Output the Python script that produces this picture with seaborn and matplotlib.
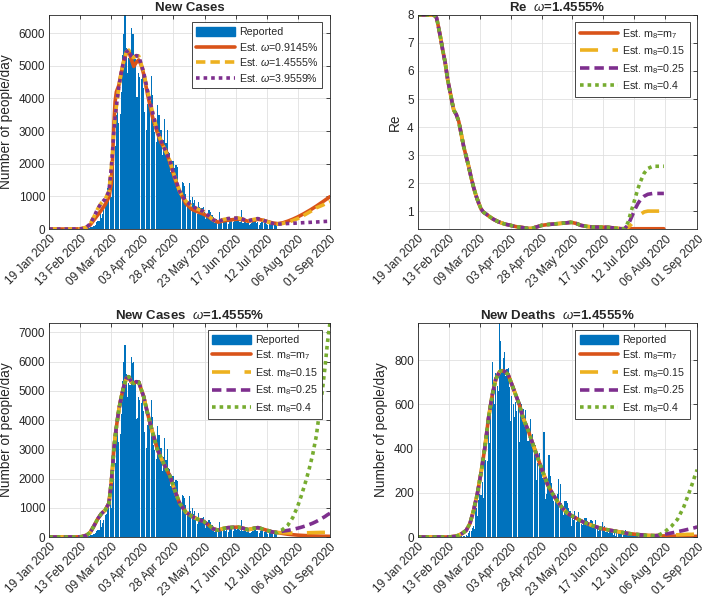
import numpy as np
import matplotlib
matplotlib.use('Agg')
import matplotlib.pyplot as plt
import seaborn as sns
from matplotlib.patches import Patch

# x axis in days after 19 Jan 2020
tick_days = [0, 25, 50, 75, 100, 125, 150, 175, 200, 226]
tick_labels = ['19 Jan 2020', '13 Feb 2020', '09 Mar 2020', '03 Apr 2020', '28 Apr 2020',
               '23 May 2020', '17 Jun 2020', '12 Jul 2020', '06 Aug 2020', '01 Sep 2020']

# reported daily data
cases_first_day = 32
reported_cases = [
    20, 59, 71, 77, 93, 125, 205, 238, 240,  # feb
    566, 342, 466, 587, 769, 778, 1247, 1492, 1797, 977, 2313, 2651, 2547, 3497, 3590, 3233,
    3526, 4207, 5322, 5986, 6557, 5560, 4789, 5249, 5210, 6153, 5959, 5974, 5217, 4050, 4053,  # mar
    4782, 4668, 4585, 4805, 4316, 3599, 3039, 3836, 4204, 3951, 4694, 4092, 3153, 2972, 2667,
    3786, 3493, 3491, 3047, 2256, 2729, 3370, 2646, 3021, 2357, 2324, 1739, 2091, 2086, 1872,  # apr
    1965, 1900, 1389, 1221, 1075, 1444, 1401, 1327, 1083, 802, 744, 1402, 888, 992, 789, 875,
    675, 451, 813, 665, 642, 652, 669, 531, 300, 397, 584, 593, 516, 416, 355,  # may
    178, 318, 321, 177, 518, 270, 197, 280, 283, 202, 379, 163, 346, 338, 301, 210, 329, 333,
    251, 262, 224, 218, 577, 190, 296, 259, 175, 174, 126, 142,  # jun
    187, 201, 223, 235, 192, 208, 138, 193, 229, 276, 188, 234, 169, 114, 163, 230, 233, 249,
    219, 218, 129,  # jul
]
deaths_first_day = 31
reported_deaths = [
    1, 1, 1, 4, 3, 2, 5, 4, 8,
    5, 18, 27, 28, 41, 49, 36, 133, 97, 168, 196, 189, 250, 175, 368, 349, 345, 475, 427, 627,
    793, 651, 601, 743, 683, 662, 969, 889, 756, 812, 837,
    727, 760, 766, 681, 525, 636, 604, 542, 610, 570, 619, 431, 566, 602, 578, 525, 575, 482,
    433, 454, 534, 437, 464, 420, 415, 260, 333, 382, 323, 285,
    269, 474, 174, 195, 236, 369, 274, 243, 194, 165, 179, 172, 195, 262, 242, 153, 145, 99,
    162, 161, 156, 130, 119, 50, 92, 78, 117, 70, 87, 111, 75,
    60, 55, 71, 88, 85, 72, 53, 65, 79, 71, 53, 56, 78, 44, 26, 34, 43, 66, 47, 49, 24, 23,
    18, 30, 34, 30, 8, 24, 6, 23,
    21, 30, 15, 21, 7, 8, 30, 15, 12, 12, 7, 7, 13, 13, 20, 11, 14, 9, 12, 3, 13,
]

# new cases estimates for three omega values
tl_days = [0, 20, 26, 30, 33, 36, 39, 42, 45, 48, 50, 51, 52, 53, 54, 56, 58, 60, 62, 64,
           66, 68, 70, 72, 74, 76, 79, 83, 87, 90, 94, 97, 101, 105, 110, 115, 120, 124, 128, 132,
           136, 140, 144, 148, 152, 156, 160, 164, 168, 172, 176, 180, 184, 188, 192, 196, 200, 205, 210, 215,
           220, 226]
est_omega_09145 = [0, 0, 10, 50, 130, 280, 430, 580, 750, 980, 1400, 2200, 3200, 3900, 4200, 4400, 4800, 5150, 5380, 5450,
                   5200, 4980, 5100, 5180, 5020, 4750, 4150, 3450, 2950, 2650, 2400, 2050, 1550, 1150, 780, 600, 520, 460, 380, 270,
                   210, 250, 270, 290, 305, 280, 240, 260, 300, 270, 225, 185, 165, 190, 240, 300, 370, 470, 580, 700,
                   830, 990]
est_omega_14555 = [0, 0, 10, 60, 160, 380, 620, 800, 920, 1150, 1900, 2400, 3000, 3400, 3750, 4350, 4800, 5150, 5420, 5480,
                   5300, 5250, 5310, 5300, 5050, 4800, 4250, 3600, 3000, 2700, 2350, 2100, 1600, 1150, 850, 700, 600, 540, 420, 280,
                   230, 290, 320, 330, 340, 300, 250, 290, 320, 270, 220, 170, 150, 170, 210, 260, 320, 420, 530, 650,
                   730, 840]
est_omega_39559 = [0, 0, 10, 60, 160, 380, 620, 800, 920, 1150, 1900, 2400, 3000, 3400, 3750, 4350, 4800, 5150, 5420, 5480,
                   5300, 5250, 5310, 5300, 5050, 4800, 4250, 3600, 3000, 2700, 2350, 2100, 1600, 1150, 850, 700, 600, 540, 420, 280,
                   230, 290, 320, 330, 340, 300, 250, 290, 320, 270, 220, 170, 150, 160, 170, 175, 185, 195, 205, 215,
                   228, 240]

# new cases, omega=1.4555%, different m8 after mid July
nc_base_days = tl_days[:53]
nc_base = est_omega_14555[:53]
nc_tail_days = [188, 192, 196, 200, 203, 206, 209, 212, 215, 218, 220, 222, 224, 226]
nc_m7 = [120, 95, 78, 64, 56, 49, 43, 38, 34, 30, 28, 26, 24, 22]
nc_015 = [150, 140, 135, 135, 138, 142, 146, 150, 153, 156, 157, 158, 158, 158]
nc_025 = [200, 225, 260, 300, 335, 375, 420, 470, 530, 600, 650, 700, 760, 810]
nc_04 = [260, 400, 660, 1050, 1420, 1830, 2280, 2800, 3450, 4420, 5050, 5800, 6650, 7320]

# new deaths
nd_base_days = [0, 25, 30, 33, 36, 39, 42, 45, 48, 51, 54, 57, 60, 63, 66, 68, 70, 73, 76, 79,
                82, 85, 89, 93, 97, 101, 105, 109, 113, 117, 121, 127, 134, 141, 148, 155, 162, 170, 178, 186,
                192]
nd_base = [0, 0, 3, 8, 17, 30, 60, 120, 195, 290, 400, 535, 640, 715, 748, 753, 750, 735, 690, 645,
           600, 540, 485, 420, 357, 295, 236, 195, 160, 130, 107, 88, 67, 52, 39, 31, 24, 16, 11, 7,
           6]
nd_tail_days = [196, 200, 205, 210, 215, 218, 221, 224, 226]
nd_m7 = [5, 5, 4, 4, 3, 3, 3, 3, 3]
nd_015 = [7, 8, 9, 10, 11, 12, 12, 13, 14]
nd_025 = [9, 13, 18, 24, 30, 34, 38, 42, 46]
nd_04 = [12, 25, 48, 80, 135, 180, 225, 275, 305]

# effective reproduction number
re_base_days = [0, 13, 15, 16, 18, 20, 22, 24, 26, 28, 29, 31, 33, 35, 37, 39, 41, 43, 45, 47,
                49, 51, 53, 55, 58, 61, 65, 70, 75, 80, 85, 89, 92, 95, 100, 105, 110, 115, 120, 124,
                128, 132, 137, 142, 148, 154, 160, 164, 167]
re_base = [8, 8, 7.9, 7.7, 7.25, 6.75, 6.3, 5.7, 5.25, 4.8, 4.6, 4.45, 4.2, 3.75, 3.3, 2.95, 2.6, 2.2, 1.85, 1.55,
           1.3, 1.08, 0.96, 0.9, 0.8, 0.71, 0.62, 0.54, 0.49, 0.44, 0.41, 0.38, 0.38, 0.42, 0.49, 0.52, 0.54, 0.56, 0.58, 0.6,
           0.56, 0.49, 0.45, 0.43, 0.43, 0.42, 0.39, 0.37, 0.37]
re_tail_days = [170, 172, 174, 176, 178, 180, 183, 186, 190, 195, 199]
re_m7 = [0.37, 0.37, 0.37, 0.37, 0.37, 0.37, 0.37, 0.37, 0.37, 0.37, 0.37]
re_015 = [0.42, 0.5, 0.6, 0.7, 0.8, 0.88, 0.97, 1.0, 1.0, 1.0, 1.0]
re_025 = [0.5, 0.7, 0.9, 1.1, 1.27, 1.4, 1.53, 1.6, 1.63, 1.63, 1.63]
re_04 = [0.6, 0.92, 1.2, 1.5, 1.8, 2.05, 2.35, 2.52, 2.6, 2.6, 2.6]

BLUE = '#0072BD'
ORANGE = '#D95319'
YELLOW = '#EDB120'
PURPLE = '#7E2F8E'
GREEN = '#77AC30'
LW = 2.6
SOLID = '-'
DASHED = (0, (2.6, 1.4))
LONGDASH = (0, (5, 4))
DOTTED = (0, (1, 1.1))

sns.set_theme(style='white')
plt.rcParams['font.family'] = ['Liberation Sans', 'DejaVu Sans']
plt.rcParams['mathtext.fontset'] = 'custom'
plt.rcParams['mathtext.rm'] = 'Liberation Sans'
plt.rcParams['mathtext.it'] = 'Liberation Sans:italic'
plt.rcParams['mathtext.bf'] = 'Liberation Sans:bold'

fig = plt.figure(figsize=(7.07, 5.98), dpi=100)
ax_tl = fig.add_axes([0.0697, 0.617, 0.397, 0.358])
ax_tr = fig.add_axes([0.5912, 0.617, 0.395, 0.358])
ax_bl = fig.add_axes([0.0697, 0.102, 0.397, 0.358])
ax_br = fig.add_axes([0.5912, 0.102, 0.395, 0.358])


def draw_bars(ax, first_day, values):
    days = np.arange(len(values)) + first_day
    sns.histplot(x=days, weights=values, discrete=True, shrink=0.9, color=BLUE,
                 alpha=1, linewidth=0, ax=ax)


def draw_line(ax, days, values, color, style):
    sns.lineplot(x=days, y=values, color=color, linewidth=LW, linestyle=style, ax=ax)


def style_axes(ax, ylim, yticks, ylabel, title):
    ax.set_xlim(0, 226)
    ax.set_ylim(*ylim)
    ax.set_xticks(tick_days)
    ax.set_xticklabels(tick_labels, rotation=45, ha='right', va='top', rotation_mode='anchor')
    ax.set_yticks(yticks)
    ax.set_xlabel('')
    ax.set_ylabel(ylabel, fontsize=9.8, color='#262626')
    ax.set_title(title, fontsize=9.5, fontweight='bold', pad=3)
    ax.grid(True, color='#e0e0e0', linewidth=0.6)
    ax.set_axisbelow(True)
    ax.tick_params(direction='in', length=3, width=0.6, top=True, right=True,
                   labelsize=8.5, colors='#262626', pad=3)
    for s in ax.spines.values():
        s.set_color('#262626')
        s.set_linewidth(0.6)


def add_legend(ax, labels, bar=True):
    handles = list(ax.get_lines())
    if bar:
        handles = [Patch(facecolor=BLUE, edgecolor=BLUE)] + handles
    leg = ax.legend(handles, labels, loc='upper right', fontsize=7.7, handlelength=3.6,
                    handleheight=0.9, labelspacing=0.35, borderpad=0.4, handletextpad=0.4,
                    borderaxespad=0.7, fancybox=False, framealpha=1, edgecolor='#262626')
    leg.get_frame().set_linewidth(0.6)


m8_labels = ['Est. m$_8$=m$_7$', 'Est. m$_8$=0.15', 'Est. m$_8$=0.25', 'Est. m$_8$=0.4']

# top left: new cases for several omega
draw_bars(ax_tl, cases_first_day, reported_cases)
draw_line(ax_tl, tl_days, est_omega_09145, ORANGE, SOLID)
draw_line(ax_tl, tl_days, est_omega_14555, YELLOW, DASHED)
draw_line(ax_tl, tl_days, est_omega_39559, PURPLE, DOTTED)
style_axes(ax_tl, (0, 6557), range(0, 7000, 1000), 'Number of people/day', 'New Cases')
add_legend(ax_tl, ['Reported', r'Est. $\omega$=0.9145%', r'Est. $\omega$=1.4555%',
                   r'Est. $\omega$=3.9559%'])

# top right: Re
draw_line(ax_tr, re_base_days + re_tail_days, re_base + re_m7, ORANGE, SOLID)
draw_line(ax_tr, re_base_days + re_tail_days, re_base + re_015, YELLOW, LONGDASH)
draw_line(ax_tr, re_base_days + re_tail_days, re_base + re_025, PURPLE, DASHED)
draw_line(ax_tr, re_base_days + re_tail_days, re_base + re_04, GREEN, DOTTED)
style_axes(ax_tr, (0.36, 8), range(1, 9), 'Re', r'Re  $\omega$=1.4555%')
add_legend(ax_tr, m8_labels, bar=False)

# bottom left: new cases, omega = 1.4555%
draw_bars(ax_bl, cases_first_day, reported_cases)
draw_line(ax_bl, nc_base_days + nc_tail_days, nc_base + nc_m7, ORANGE, SOLID)
draw_line(ax_bl, nc_base_days + nc_tail_days, nc_base + nc_015, YELLOW, LONGDASH)
draw_line(ax_bl, nc_base_days + nc_tail_days, nc_base + nc_025, PURPLE, DASHED)
draw_line(ax_bl, nc_base_days + nc_tail_days, nc_base + nc_04, GREEN, DOTTED)
style_axes(ax_bl, (0, 7320), range(0, 8000, 1000), 'Number of people/day',
           r'New Cases  $\omega$=1.4555%')
add_legend(ax_bl, ['Reported'] + m8_labels)

# bottom right: new deaths
draw_bars(ax_br, deaths_first_day, reported_deaths)
draw_line(ax_br, nd_base_days + nd_tail_days, nd_base + nd_m7, ORANGE, SOLID)
draw_line(ax_br, nd_base_days + nd_tail_days, nd_base + nd_015, YELLOW, LONGDASH)
draw_line(ax_br, nd_base_days + nd_tail_days, nd_base + nd_025, PURPLE, DASHED)
draw_line(ax_br, nd_base_days + nd_tail_days, nd_base + nd_04, GREEN, DOTTED)
style_axes(ax_br, (0, 969), range(0, 1000, 200), 'Number of people/day',
           r'New Deaths  $\omega$=1.4555%')
add_legend(ax_br, ['Reported'] + m8_labels)

fig.savefig('out.png', dpi=100)
